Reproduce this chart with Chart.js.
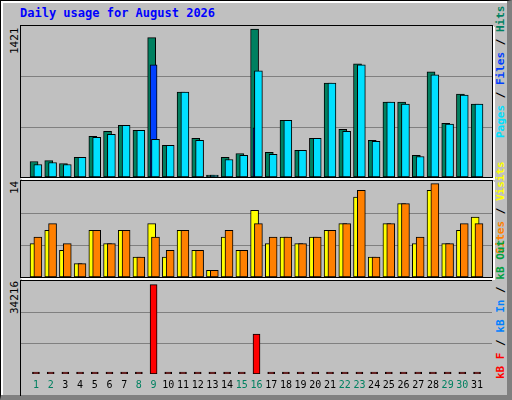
<!DOCTYPE html>
<html>
<head>
<meta charset="utf-8">
<script src="https://cdn.jsdelivr.net/npm/chart.js@4"></script>
<style>
  body { margin: 0; background: #fff; }
  #frame {
    position: relative; width: 506px; height: 394px;
    background: #c0c0c0; border-top: 1px solid #000; border-left: 1px solid #000;
    border-right: 5px solid #808080; border-bottom: 5px solid #808080;
    box-shadow: inset 2px 2px 0 #fff;
    font-family: "DejaVu Sans Mono", monospace;
  }
  .plot { position: absolute; border: 1px solid #000; box-shadow: 1px 1px 0 #fff, 2px 2px 0 #fff; }
  .rot { position: absolute; white-space: nowrap; transform: rotate(-90deg); transform-origin: left top; font-size: 11px; line-height: 12px; }
  #title { position: absolute; left: 19px; top: 5px; color: #0000ff; font-weight: bold; font-size: 12px; }
</style>
</head>
<body>
<div id="frame">
  <div id="title">Daily usage for August 2026</div>

  <div class="rot" style="left:8px;top:53px;">1421</div>
  <div class="rot" style="left:8px;top:193px;">14</div>
  <div class="rot" style="left:8px;top:313px;">34216</div>

  <div class="rot" style="left:494px;top:137px;font-weight:bold;"><span style="color:#00e0ff">Pages</span> / <span style="color:#0040ff">Files</span> / <span style="color:#008060">Hits</span></div>
  <div class="rot" style="left:494px;top:253px;font-weight:bold;"><span style="color:#ff8000">Sites</span> / <span style="color:#ffff00">Visits</span></div>
  <div class="rot" style="left:494px;top:378px;font-weight:bold;"><span style="color:#ff0000">kB F</span> / <span style="color:#0080ff">kB In</span> / <span style="color:#00a040">kB Out</span></div>

  <div class="plot" style="left:19px;top:24px;width:471px;height:151px;"><canvas id="c1" width="471" height="151"></canvas></div>
  <div class="plot" style="left:19px;top:179px;width:471px;height:96px;"><canvas id="c2" width="471" height="96"></canvas></div>
  <div style="position:absolute;left:19px;top:279px;width:471px;height:115px;border-top:1px solid #000;border-left:1px solid #000;">
    <canvas id="c3" width="471" height="115"></canvas>
  </div>
</div>

<script>
// data (August 2026)
const days = Array.from({length: 31}, (_, i) => i + 1);
const weekendDays = [1, 2, 8, 9, 15, 16, 22, 23, 29, 30];

const hits  = [149, 158, 130, 188, 391, 439, 497, 449, 1338, 304, 816, 371, 0, 188, 226, 1421,
               236, 545, 255, 371, 903, 458, 1087, 352, 719, 719, 207, 1010, 516, 797, 700];
const files = [120, 139, 120, 188, 381, 410, 497, 449, 362, 304, 816, 352, 0, 168, 207, 1019,
               217, 545, 255, 371, 903, 439, 1077, 342, 719, 700, 197, 980, 507, 787, 700];
const pages = [0, 0, 0, 0, 0, 0, 0, 0, 1077, 0, 0, 0, 0, 0, 0, 471,
               0, 0, 0, 0, 0, 0, 0, 0, 0, 0, 0, 0, 0, 0, 0];

const visits = [5, 7, 4, 2, 7, 5, 7, 3, 8, 3, 7, 4, 1, 6, 4, 10,
                5, 6, 5, 6, 7, 8, 12, 3, 8, 11, 5, 13, 5, 7, 9];
const sites  = [6, 8, 5, 2, 7, 5, 7, 3, 6, 4, 7, 4, 1, 7, 4, 8,
                6, 6, 5, 6, 7, 8, 13, 3, 8, 11, 6, 14, 5, 8, 8];

const kbF = [0, 0, 0, 0, 0, 0, 0, 0, 34216, 0, 0, 0, 0, 0, 0, 15250,
             0, 0, 0, 0, 0, 0, 700, 0, 0, 0, 0, 650, 0, 0, 0];

const pts = (vals, shift) => vals.map((v, i) => ({x: days[i] + shift, y: v}));

// grid lines at one and two thirds of the panel height
const thirdsGrid = {
  id: 'thirdsGrid',
  beforeDatasetsDraw(chart) {
    const {ctx, chartArea: a, scales: {y}} = chart;
    ctx.save();
    ctx.strokeStyle = '#808080';
    ctx.lineWidth = 1;
    [1, 2].forEach(k => {
      const py = Math.round(y.getPixelForValue(y.max * k / 3)) + 0.5;
      ctx.beginPath(); ctx.moveTo(a.left, py); ctx.lineTo(a.right, py); ctx.stroke();
    });
    ctx.restore();
  }
};

function makePanel(id, datasets, ymax, showX) {
  return new Chart(document.getElementById(id), {
    type: 'bar',
    data: {datasets},
    plugins: [thirdsGrid],
    options: {
      responsive: false,
      animation: false,
      layout: {padding: 0},
      plugins: {legend: {display: false}, tooltip: {enabled: false}},
      datasets: {bar: {grouped: false, borderColor: '#000', borderWidth: 1, borderSkipped: false}},
      scales: {
        x: {
          type: 'linear', min: 0.5, max: 31.5, display: showX,
          grid: {display: false, drawTicks: false}, border: {display: false},
          afterBuildTicks: s => { s.ticks = days.map(d => ({value: d})); },
          ticks: {
            padding: 5, autoSkip: false, maxRotation: 0,
            font: {family: 'DejaVu Sans Mono', size: 10},
            color: c => weekendDays.includes(c.tick.value) ? '#008060' : '#000',
            callback: v => String(v)
          }
        },
        y: {display: false, min: 0, max: ymax}
      }
    }
  });
}

makePanel('c1', [
  {data: pts(hits, -0.13),  backgroundColor: '#008060', barThickness: 8, minBarLength: 2, order: 3},
  {data: pts(pages, 0),     backgroundColor: '#0040ff', barThickness: 7, order: 2},
  {data: pts(files, 0.13),  backgroundColor: '#00e0ff', barThickness: 8, minBarLength: 2, order: 1}
], 1450, false);

makePanel('c2', [
  {data: pts(visits, -0.13), backgroundColor: '#ffff00', barThickness: 8, order: 2},
  {data: pts(sites, 0.13),   backgroundColor: '#ff8000', barThickness: 8, order: 1}
], 14.4, false);

makePanel('c3', [
  {data: pts(kbF, 0), backgroundColor: '#ff0000', barThickness: 7, minBarLength: 2}
], 35600, true);
</script>
</body>
</html>
